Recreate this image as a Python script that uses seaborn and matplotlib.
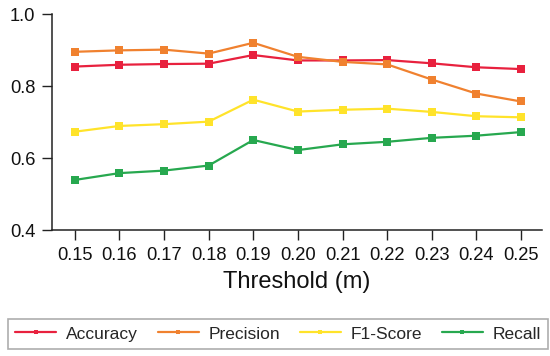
import pandas as pd
import matplotlib
matplotlib.use('Agg')
import matplotlib.pyplot as plt
import seaborn as sns

# Values
thresholds = [0.15, 0.16, 0.17, 0.18, 0.19, 0.20, 0.21, 0.22, 0.23, 0.24, 0.25]
accuracy = [0.854, 0.859, 0.861, 0.862, 0.886, 0.871, 0.871, 0.872, 0.863, 0.852, 0.847]
precision = [0.895, 0.899, 0.901, 0.890, 0.920, 0.881, 0.867, 0.860, 0.818, 0.779, 0.757]
f1_score = [0.673, 0.689, 0.694, 0.701, 0.762, 0.729, 0.734, 0.737, 0.728, 0.716, 0.713]
recall = [0.539, 0.558, 0.565, 0.579, 0.650, 0.622, 0.638, 0.645, 0.656, 0.662, 0.672]

metric_names = ['Accuracy', 'Precision', 'F1-Score', 'Recall']
colors = ['#E8213E', '#F0812F', '#FFE32A', '#27A84F']
tick_labels = ['%.2f' % t for t in thresholds]

df = pd.concat([
    pd.DataFrame({'Threshold': thresholds, 'Score': vals, 'Metric': name})
    for name, vals in zip(metric_names, [accuracy, precision, f1_score, recall])
])

sns.set_style('ticks')
plt.rcParams['font.family'] = ['Liberation Sans', 'DejaVu Sans']

fig = plt.figure(figsize=(5.5, 3.56), dpi=100)
ax = fig.add_axes([52 / 550, 1 - 230 / 356, 490 / 550, 216 / 356])

sns.lineplot(data=df, x='Threshold', y='Score', hue='Metric', style='Metric',
             palette=dict(zip(metric_names, colors)), markers=['s'] * 4, dashes=False,
             markersize=5.5, markeredgewidth=0, linewidth=1.6, ax=ax, legend=False)

ax.set_xlim(0.1449, 0.2547)
ax.set_ylim(0.4, 1.0)
ax.set_xticks(thresholds)
ax.set_xticklabels(tick_labels)
ax.set_yticks([0.4, 0.6, 0.8, 1.0])
ax.set_yticklabels(['0.4', '0.6', '0.8', '1.0'])
ax.tick_params(axis='both', labelsize=13.2, length=7, width=1, color='#222222',
               labelcolor='#111111', pad=5)
ax.set_xlabel('Threshold (m)', fontsize=17, color='#111111', labelpad=5)
ax.set_ylabel('')
for side in ['top', 'right']:
    ax.spines[side].set_visible(False)
for side in ['left', 'bottom']:
    ax.spines[side].set_linewidth(1.1)
    ax.spines[side].set_color('#222222')

handles = [plt.Line2D([], [], color=c, marker='s', markersize=3.5, markeredgewidth=0,
                      linewidth=1.6) for c in colors]
leg = fig.legend(handles, metric_names, loc='center', bbox_to_anchor=(278 / 550, 1 - 334 / 356),
                 ncol=4, fontsize=12.5, frameon=True, fancybox=False, edgecolor='#999999',
                 handlelength=2.36, columnspacing=1.15, handletextpad=0.55, borderpad=0.4)
leg.get_frame().set_linewidth(1.2)

fig.savefig('out.png', dpi=100)
